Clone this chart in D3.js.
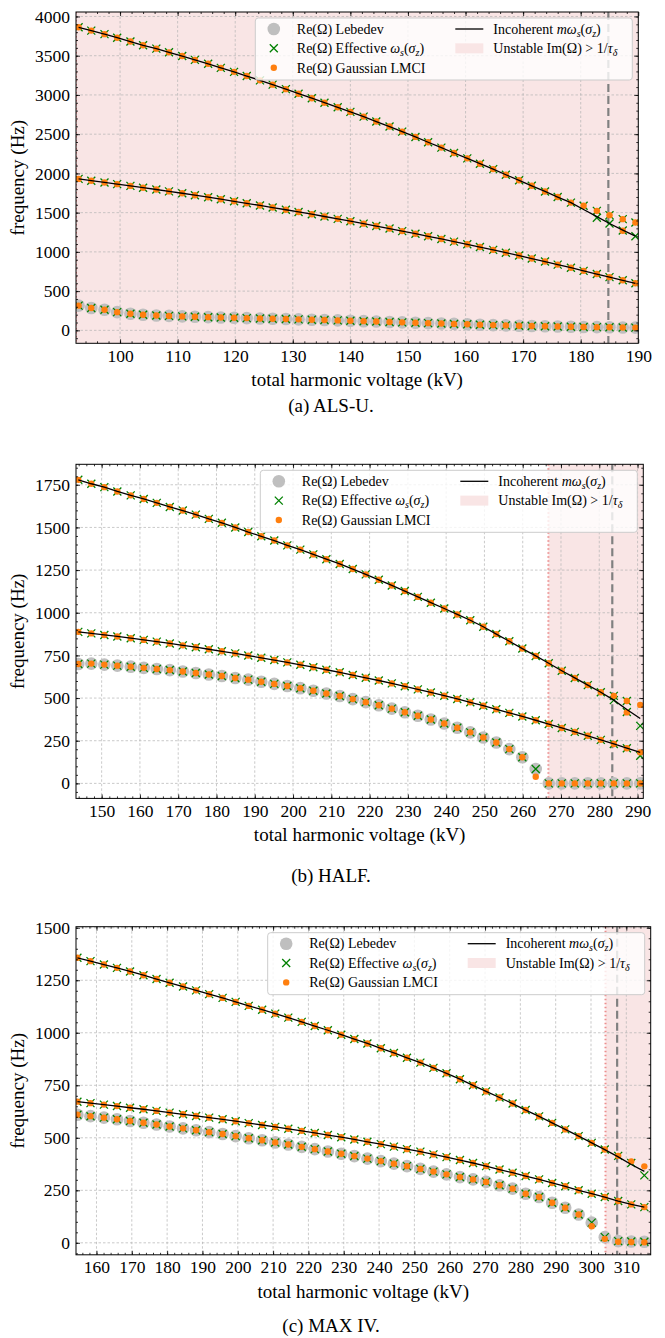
<!DOCTYPE html>
<html>
<head>
<meta charset="utf-8">
<script src="https://cdn.jsdelivr.net/npm/d3@7"></script>
<style>
  body { margin: 0; background: #fff; }
  svg text { font-family: "Liberation Serif", "DejaVu Serif", serif; fill: #000; }
</style>
</head>
<body>
<svg id="fig" width="665" height="1338"></svg>
<script>
// ---------------- data ----------------
// (a) ALS-U.
const voltsA = [92.8, 95.0, 97.3, 99.5, 101.8, 104.0, 106.3, 108.5, 110.8, 113.0, 115.3, 117.5, 119.8, 122.0, 124.3,
  126.5, 128.8, 131.0, 133.3, 135.5, 137.8, 140.0, 142.3, 144.5, 146.8, 149.0, 151.3, 153.5, 155.8, 158.0,
  160.3, 162.5, 164.8, 167.0, 169.3, 171.5, 173.8, 176.0, 178.3, 180.5, 182.8, 185.0, 187.3, 189.5];
const lebedevA = [315, 285, 262, 232, 212, 198, 190, 184, 178, 173, 168, 164, 160, 156, 152, 148, 144, 140, 136, 132,
  127, 122, 117, 112, 107, 102, 97, 92, 87, 82, 77, 72, 67, 63, 59, 55, 52, 49, 46, 43, 41, 39, 37, 35];
const incohA1 = [1930, 1907, 1885, 1863, 1841, 1818, 1795, 1771, 1747, 1722, 1697, 1671, 1645, 1619, 1592, 1565,
  1537, 1509, 1480, 1451, 1421, 1391, 1360, 1329, 1297, 1265, 1232, 1199, 1165, 1131, 1097, 1062, 1026, 990,
  953, 915, 877, 838, 798, 758, 718, 678, 638, 600];
const incohA2 = [3862, 3820, 3775, 3729, 3681, 3633, 3590, 3543, 3496, 3447, 3397, 3345, 3294, 3241, 3186, 3131,
  3074, 3016, 2958, 2901, 2843, 2784, 2724, 2661, 2597, 2533, 2465, 2397, 2329, 2260, 2192, 2124, 2055, 1983,
  1912, 1842, 1770, 1699, 1628, 1540, 1450, 1362, 1278, 1200];
const markA2 = [3862, 3820, 3775, 3729, 3681, 3633, 3590, 3543, 3496, 3447, 3397, 3345, 3294, 3241, 3186, 3131,
  3074, 3016, 2958, 2901, 2843, 2784, 2724, 2661, 2597, 2533, 2465, 2397, 2329, 2260, 2192, 2124, 2055, 1983,
  1912, 1842, 1770, 1699, 1628, 1587, 1523, 1468, 1417, 1374];
const effA2b = [null, null, null, null, null, null, null, null, null, null, null, null, null, null, null, null,
  null, null, null, null, null, null, null, null, null, null, null, null, null, null, null, null, null, null,
  null, null, null, null, null, null, 1435, 1362, 1272, 1200];
const gaussA2b = [null, null, null, null, null, null, null, null, null, null, null, null, null, null, null, null,
  null, null, null, null, null, null, null, null, null, null, null, null, null, null, null, null, null, null,
  null, null, null, null, null, null, null, null, 1270, null];
const xTicksA = [100, 110, 120, 130, 140, 150, 160, 170, 180, 190];
const yTicksA = [0, 500, 1000, 1500, 2000, 2500, 3000, 3500, 4000];
const unstableA = 92.35, lengtheningA = 184.8;

// (b) HALF.
const voltsB = [143.9, 147.3, 150.7, 154.1, 157.6, 161.0, 164.4, 167.8, 171.2, 174.6, 178.0, 181.4, 184.9, 188.3,
  191.7, 195.1, 198.5, 201.9, 205.3, 208.7, 212.2, 215.6, 219.0, 222.4, 225.8, 229.2, 232.6, 236.0, 239.5,
  242.9, 246.3, 249.7, 253.1, 256.5, 259.9, 263.4, 266.8, 270.2, 273.6, 277.0, 280.4, 283.8, 287.2, 290.7];
const lebedevB = [700, 702, 696, 690, 684, 677, 670, 664, 656, 647, 638, 629, 618, 608, 596, 583, 571, 558, 543,
  527, 512, 494, 476, 458, 438, 417, 396, 374, 351, 326, 299, 269, 240, 201, 153, 84, 0, 0, 0, 0, 0, 0, 0, 0];
const gaussLowB = [700, 702, 696, 690, 684, 677, 670, 664, 656, 647, 638, 629, 618, 608, 596, 583, 571, 558, 543,
  527, 512, 494, 476, 458, 438, 417, 396, 374, 351, 326, 299, 269, 240, 201, 153, 39, 0, 0, 0, 0, 0, 0, 0, 0];
const incohB1 = [888, 879, 870, 861, 851, 841, 831, 820, 809, 798, 786, 774, 762, 749, 736, 723, 709, 695, 681,
  666, 651, 635, 619, 603, 586, 569, 551, 533, 514, 495, 475, 455, 434, 413, 392, 370, 348, 325, 302, 279,
  255, 231, 206, 182];
const effB1 = [888, 879, 870, 861, 851, 841, 831, 820, 809, 798, 786, 774, 762, 749, 736, 723, 709, 695, 681,
  666, 651, 635, 619, 603, 586, 569, 551, 533, 514, 495, 475, 455, 434, 413, 392, 370, 348, 325, 302, 279,
  255, 231, 206, 162];
const incohB2 = [1779, 1756, 1736, 1711, 1688, 1667, 1644, 1620, 1599, 1575, 1550, 1527, 1500, 1473, 1448, 1423,
  1395, 1370, 1342, 1314, 1286, 1256, 1225, 1193, 1160, 1127, 1093, 1059, 1025, 990, 956, 918, 875, 833, 790,
  747, 704, 660, 618, 576, 534, 488, 433, 380];
const effB2 = [1779, 1756, 1736, 1711, 1688, 1667, 1644, 1620, 1599, 1575, 1550, 1527, 1500, 1473, 1448, 1423,
  1395, 1370, 1342, 1314, 1286, 1256, 1225, 1193, 1160, 1127, 1093, 1059, 1025, 990, 956, 918, 875, 833, 790,
  747, 704, 660, 618, 576, 534, 513, 483, 337];
const gaussB2 = [1779, 1756, 1736, 1711, 1688, 1667, 1644, 1620, 1599, 1575, 1550, 1527, 1500, 1473, 1448, 1423,
  1395, 1370, 1342, 1314, 1286, 1256, 1225, 1193, 1160, 1127, 1093, 1059, 1025, 990, 956, 918, 875, 833, 790,
  747, 704, 660, 618, 576, 534, 513, 483, 460];
const effB2b = [null, null, null, null, null, null, null, null, null, null, null, null, null, null, null, null,
  null, null, null, null, null, null, null, null, null, null, null, null, null, null, null, null, null, null,
  null, null, null, null, null, null, null, 488, 418, null];
const gaussB2b = [null, null, null, null, null, null, null, null, null, null, null, null, null, null, null, null,
  null, null, null, null, null, null, null, null, null, null, null, null, null, null, null, null, null, null,
  null, null, null, null, null, null, null, null, 416, null];
const xTicksB = [150, 160, 170, 180, 190, 200, 210, 220, 230, 240, 250, 260, 270, 280, 290];
const yTicksB = [0, 250, 500, 750, 1000, 1250, 1500, 1750];
const unstableB = 266.7, lengtheningB = 283.4;

// (c) MAX IV.
const voltsC = [154.6, 158.3, 162.1, 165.8, 169.5, 173.3, 177.0, 180.7, 184.5, 188.2, 191.9, 195.7, 199.4, 203.1,
  206.9, 210.6, 214.3, 218.1, 221.8, 225.5, 229.3, 233.0, 236.7, 240.5, 244.2, 247.9, 251.7, 255.4, 259.1,
  262.9, 266.6, 270.3, 274.1, 277.8, 281.5, 285.3, 289.0, 292.7, 296.5, 300.2, 303.9, 307.7, 311.4, 315.1];
const lebedevC = [610, 603, 596, 588, 580, 572, 563, 554, 545, 536, 527, 518, 508, 498, 488, 478, 468, 457, 446,
  435, 424, 413, 401, 389, 377, 365, 352, 339, 326, 313, 302, 290, 274, 258, 234, 218, 191, 167, 135, 96, 27,
  8, 6, 5];
const gaussLowC = [610, 603, 596, 588, 580, 572, 563, 554, 545, 536, 527, 518, 508, 498, 488, 478, 468, 457, 446,
  435, 424, 413, 401, 389, 377, 365, 352, 339, 326, 313, 302, 290, 274, 258, 234, 218, 191, 167, 135, 79, 19,
  5, 4, 3];
const incohC1 = [672, 665, 658, 651, 643, 636, 628, 620, 612, 604, 596, 588, 579, 570, 561, 552, 543, 533, 523,
  513, 503, 492, 481, 470, 458, 446, 434, 421, 408, 394, 380, 365, 349, 334, 318, 302, 285, 269, 250, 234,
  218, 199, 183, 170];
const incohC2 = [1357, 1341, 1325, 1309, 1292, 1274, 1256, 1238, 1220, 1202, 1184, 1166, 1147, 1128, 1110, 1091,
  1072, 1052, 1032, 1012, 991, 970, 949, 926, 904, 881, 858, 833, 807, 779, 750, 721, 692, 663, 632, 602, 571,
  540, 508, 476, 444, 409, 373, 340];
const effC2 = [1357, 1341, 1325, 1309, 1292, 1274, 1256, 1238, 1220, 1202, 1184, 1166, 1147, 1128, 1110, 1091,
  1072, 1052, 1032, 1012, 991, 970, 949, 926, 904, 881, 858, 833, 807, 779, 750, 721, 692, 663, 632, 602, 571,
  540, 508, 476, 444, 414, 380, 321];
const gaussC2 = [1357, 1341, 1325, 1309, 1292, 1274, 1256, 1238, 1220, 1202, 1184, 1166, 1147, 1128, 1110, 1091,
  1072, 1052, 1032, 1012, 991, 970, 949, 926, 904, 881, 858, 833, 807, 779, 750, 721, 692, 663, 632, 602, 571,
  540, 508, 476, 444, 414, 388, 364];
const xTicksC = [160, 170, 180, 190, 200, 210, 220, 230, 240, 250, 260, 270, 280, 290, 300, 310];
const yTicksC = [0, 250, 500, 750, 1000, 1250, 1500];
const unstableC = 304.1, lengtheningC = 307.4;

// ---------------- drawing ----------------
const svg = d3.select("#fig");
const defs = svg.append("defs");

const SERIF = "'Liberation Serif', 'DejaVu Serif', serif";
const GRAY = "#bfbfbf", GREEN = "#008000", ORANGE = "#ff7f0e", PINK = "#f9e5e5";
const crossPath = "M-4,-4L4,4M-4,4L4,-4";

// mixed roman / italic / subscript text
function rich(sel, parts) {
  parts.forEach(([t, kind]) => {
    const ts = sel.append("tspan").text(t);
    if (kind === "i") ts.style("font-style", "italic");
    if (kind === "s") ts.style("font-style", "italic").style("font-size", "10px").attr("dy", 3);
    if (kind === "u") ts.attr("dy", -3); // back up after a subscript
  });
}

function pairs(volts, vals) {
  return volts.map((v, i) => [v, vals[i]]).filter(d => d[1] != null);
}

function drawPanel(p) {
  const x = d3.scaleLinear().domain(p.xDomain).range([p.left, p.right]);
  const y = d3.scaleLinear().domain(p.yDomain).range([p.bottom, p.top]);
  const g = svg.append("g");

  defs.append("clipPath").attr("id", "clip-" + p.id)
    .append("rect")
    .attr("x", p.left).attr("y", p.top)
    .attr("width", p.right - p.left).attr("height", p.bottom - p.top);

  const plot = g.append("g").attr("clip-path", `url(#clip-${p.id})`);

  // unstable region
  plot.append("rect")
    .attr("x", x(p.unstable)).attr("y", p.top)
    .attr("width", p.right - x(p.unstable)).attr("height", p.bottom - p.top)
    .attr("fill", PINK);

  // grid
  plot.selectAll(".vg").data(p.xTicks).join("line")
    .attr("x1", d => x(d)).attr("x2", d => x(d))
    .attr("y1", p.top).attr("y2", p.bottom)
    .attr("stroke", "#b3b3b3").attr("stroke-width", 0.7).attr("stroke-dasharray", "2.5,2");
  plot.selectAll(".hg").data(p.yTicks).join("line")
    .attr("y1", d => y(d)).attr("y2", d => y(d))
    .attr("x1", p.left).attr("x2", p.right)
    .attr("stroke", "#b3b3b3").attr("stroke-width", 0.7).attr("stroke-dasharray", "2.5,2");

  // threshold lines
  plot.append("line")
    .attr("x1", x(p.unstable)).attr("x2", x(p.unstable))
    .attr("y1", p.top).attr("y2", p.bottom)
    .attr("stroke", "#ec8f8f").attr("stroke-width", 2).attr("stroke-dasharray", "1.5,2.5");
  plot.append("line")
    .attr("x1", x(p.lengthening)).attr("x2", x(p.lengthening))
    .attr("y1", p.top).attr("y2", p.bottom)
    .attr("stroke", "#808080").attr("stroke-width", 2.2).attr("stroke-dasharray", "8,4");

  // Lebedev
  plot.selectAll(".leb").data(pairs(p.volts, p.lebedev)).join("circle")
    .attr("cx", d => x(d[0])).attr("cy", d => y(d[1])).attr("r", 6.3)
    .attr("fill", GRAY);

  // effective omega_s
  p.eff.forEach(series => {
    plot.append("g").selectAll("path").data(pairs(p.volts, series)).join("path")
      .attr("transform", d => `translate(${x(d[0])},${y(d[1])})`)
      .attr("d", crossPath)
      .attr("stroke", GREEN).attr("stroke-width", 1.3).attr("fill", "none");
  });

  // Gaussian LMCI
  p.gauss.forEach(series => {
    plot.append("g").selectAll("circle").data(pairs(p.volts, series)).join("circle")
      .attr("cx", d => x(d[0])).attr("cy", d => y(d[1])).attr("r", 3.2)
      .attr("fill", ORANGE);
  });

  // incoherent m*omega_s
  const line = d3.line().x(d => x(d[0])).y(d => y(d[1]));
  p.incoh.forEach(series => {
    plot.append("path").attr("d", line(pairs(p.volts, series)))
      .attr("fill", "none").attr("stroke", "#000").attr("stroke-width", 1.3);
  });

  // axes: ticks inward on all four sides
  const xMinor = d3.range(Math.ceil(p.xDomain[0] / 2) * 2, p.xDomain[1], 2);
  const yMinor = d3.range(Math.ceil(p.yDomain[0] / p.yMinorStep) * p.yMinorStep, p.yDomain[1], p.yMinorStep);

  function axis(gen, tr, ticks, size, labels) {
    const a = g.append("g").attr("transform", tr)
      .call(gen.tickValues(ticks).tickSize(-size).tickSizeOuter(0)
        .tickPadding(labels ? 6 : 0).tickFormat(labels ? d3.format("d") : ""));
    a.attr("font-family", null).attr("font-size", null);
    a.select(".domain").remove();
    a.selectAll("line").attr("stroke", "#000").attr("stroke-width", 0.8);
    a.selectAll("text").style("font-family", SERIF).style("font-size", "17.5px");
    return a;
  }
  axis(d3.axisBottom(x), `translate(0,${p.bottom})`, p.xTicks, 4, true);
  axis(d3.axisBottom(x), `translate(0,${p.bottom})`, xMinor, 2, false);
  axis(d3.axisTop(x), `translate(0,${p.top})`, p.xTicks, 4, false);
  axis(d3.axisTop(x), `translate(0,${p.top})`, xMinor, 2, false);
  axis(d3.axisLeft(y), `translate(${p.left},0)`, p.yTicks, 4, true);
  axis(d3.axisLeft(y), `translate(${p.left},0)`, yMinor, 2, false);
  axis(d3.axisRight(y), `translate(${p.right},0)`, p.yTicks, 4, false);
  axis(d3.axisRight(y), `translate(${p.right},0)`, yMinor, 2, false);

  g.append("rect")
    .attr("x", p.left).attr("y", p.top)
    .attr("width", p.right - p.left).attr("height", p.bottom - p.top)
    .attr("fill", "none").attr("stroke", "#000").attr("stroke-width", 1);

  // axis titles and caption
  g.append("text")
    .attr("x", (p.left + p.right) / 2).attr("y", p.bottom + 43)
    .attr("text-anchor", "middle")
    .style("font-family", SERIF).style("font-size", "19px")
    .text("total harmonic voltage (kV)");
  g.append("text")
    .attr("transform", `translate(24,${(p.top + p.bottom) / 2}) rotate(-90)`)
    .attr("text-anchor", "middle")
    .style("font-family", SERIF).style("font-size", "19px")
    .text("frequency (Hz)");
  g.append("text")
    .attr("x", 331).attr("y", p.captionY)
    .attr("text-anchor", "middle")
    .style("font-family", SERIF).style("font-size", "19px")
    .text(p.caption);

  // legend
  const lw = 377, lh = 62;
  const lg = g.append("g").attr("transform", `translate(${p.right - 6 - lw},${p.top + 6})`);
  lg.append("rect").attr("width", lw).attr("height", lh).attr("rx", 3)
    .attr("fill", "#fff").attr("fill-opacity", 0.8)
    .attr("stroke", "#cccccc").attr("stroke-width", 1);
  const rows = [11, 30.3, 49.7];
  lg.append("circle").attr("cx", 18.5).attr("cy", rows[0]).attr("r", 6.3).attr("fill", GRAY);
  lg.append("path").attr("transform", `translate(18.5,${rows[1]})`).attr("d", crossPath)
    .attr("stroke", GREEN).attr("stroke-width", 1.3).attr("fill", "none");
  lg.append("circle").attr("cx", 18.5).attr("cy", rows[2]).attr("r", 3.2).attr("fill", ORANGE);
  lg.append("line").attr("x1", 200).attr("x2", 228).attr("y1", rows[0]).attr("y2", rows[0])
    .attr("stroke", "#000").attr("stroke-width", 1.3);
  lg.append("rect").attr("x", 200).attr("y", rows[1] - 5).attr("width", 28).attr("height", 10)
    .attr("fill", PINK);

  const legendTexts = [
    [41.5, rows[0], [["Re(Ω) Lebedev"]]],
    [41.5, rows[1], [["Re(Ω) Effective "], ["ω", "i"], ["s", "s"], ["(", "u"], ["σ", "i"], ["z", "s"], [")", "u"]]],
    [41.5, rows[2], [["Re(Ω) Gaussian LMCI"]]],
    [238, rows[0], [["Incoherent "], ["mω", "i"], ["s", "s"], ["(", "u"], ["σ", "i"], ["z", "s"], [")", "u"]]],
    [238, rows[1], [["Unstable Im(Ω) > 1/"], ["τ", "i"], ["δ", "s"]]]
  ];
  legendTexts.forEach(([tx, ty, parts]) => {
    const t = lg.append("text").attr("x", tx).attr("y", ty + 4.8)
      .style("font-family", SERIF).style("font-size", "14px");
    rich(t, parts);
  });
}

drawPanel({
  id: "a", left: 76, right: 638.3, top: 12, bottom: 343.3,
  xDomain: [92.35, 190], yDomain: [-165, 4057], yMinorStep: 100,
  xTicks: xTicksA, yTicks: yTicksA,
  unstable: unstableA, lengthening: lengtheningA,
  volts: voltsA, lebedev: lebedevA,
  eff: [lebedevA, incohA1, markA2, effA2b],
  gauss: [lebedevA, incohA1, markA2, gaussA2b],
  incoh: [incohA1, incohA2],
  caption: "(a) ALS-U.", captionY: 412
});

drawPanel({
  id: "b", left: 76, right: 643.3, top: 464.3, bottom: 798.4,
  xDomain: [143.3, 291.5], yDomain: [-88, 1870], yMinorStep: 50,
  xTicks: xTicksB, yTicks: yTicksB,
  unstable: unstableB, lengthening: lengtheningB,
  volts: voltsB, lebedev: lebedevB,
  eff: [lebedevB, effB1, effB2, effB2b],
  gauss: [gaussLowB, incohB1, gaussB2, gaussB2b],
  incoh: [incohB1, incohB2],
  caption: "(b) HALF.", captionY: 882
});

drawPanel({
  id: "c", left: 76, right: 650.7, top: 926.7, bottom: 1254.8,
  xDomain: [154.2, 316.9], yDomain: [-57, 1505], yMinorStep: 50,
  xTicks: xTicksC, yTicks: yTicksC,
  unstable: unstableC, lengthening: lengtheningC,
  volts: voltsC, lebedev: lebedevC,
  eff: [lebedevC, incohC1, effC2],
  gauss: [gaussLowC, incohC1, gaussC2],
  incoh: [incohC1, incohC2],
  caption: "(c) MAX IV.", captionY: 1332
});
</script>
</body>
</html>
